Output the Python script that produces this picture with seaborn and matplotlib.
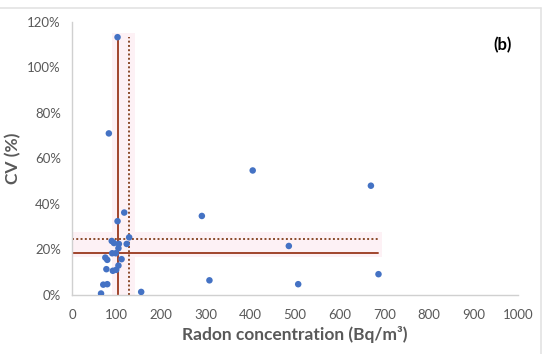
import matplotlib
matplotlib.use("Agg")
import matplotlib.pyplot as plt
from matplotlib.ticker import PercentFormatter
import seaborn as sns
import pandas as pd

# radon concentration (Bq/m3) and coefficient of variation (%) per dwelling
radon = [102, 82.5, 405, 670, 291, 117, 102, 128, 89, 94, 105, 122.5, 104, 486,
         90, 98, 74.6, 79, 111, 104, 77, 91.4, 99, 70, 79, 65, 155, 308, 507, 687]
cv = [113.3, 71, 54.7, 48, 34.7, 36.2, 32.4, 25.3, 23.7, 22.8, 22.4, 22.4, 20.5, 21.5,
      18.3, 18.3, 16.4, 15.4, 15.7, 12.9, 11.3, 10.6, 11, 4.5, 4.7, 0.6, 1.3, 6.4, 4.7, 9.1]

# reference lines: solid = median, dotted = mean
median_radon = 102
mean_radon = 128
median_cv = 18.4
mean_cv = 24.6
# shaded uncertainty bands
band_radon = (90, 141)
band_cv = (16.8, 27.5)

x_ticks = list(range(0, 1001, 100))
y_ticks = list(range(0, 121, 20))

df = pd.DataFrame({'radon': radon, 'cv': cv})

sns.set_style("white")
plt.rcParams['font.family'] = ['Lato', 'DejaVu Sans']

fig = plt.figure(figsize=(5.5, 3.54), dpi=100)
ax = fig.add_axes([0.131, 0.167, 0.811, 0.771])

x_max = max(radon)
y_max = max(cv)

# faint pink bands
ax.fill_between([band_radon[0], band_radon[1]], 0, y_max + 2, color='#fdf1f5', lw=0, zorder=0)
ax.fill_between([0, x_max + 8], band_cv[0], band_cv[1], color='#fdf1f5', lw=0, zorder=0)

line_col = '#a0452c'
ax.plot([median_radon, median_radon], [0, y_max], color=line_col, lw=1.4, zorder=1)
ax.plot([mean_radon, mean_radon], [0, y_max], color='#8a4a2a', lw=1.4, ls=(0, (1, 1.2)), zorder=1)
ax.plot([0, x_max], [median_cv, median_cv], color=line_col, lw=1.4, zorder=1)
ax.plot([0, x_max], [mean_cv, mean_cv], color='#8a4a2a', lw=1.4, ls=(0, (1, 1.2)), zorder=1)

sns.scatterplot(data=df, x='radon', y='cv', color='#4472c4', s=22, edgecolor='none', ax=ax, zorder=3)

ax.set_xlim(0, 1000)
ax.set_ylim(0, 120)
ax.set_xticks(x_ticks)
ax.set_yticks(y_ticks)
ax.yaxis.set_major_formatter(PercentFormatter(decimals=0))

for side in ['top', 'right']:
    ax.spines[side].set_visible(False)
for side in ['left', 'bottom']:
    ax.spines[side].set_color('#d0d0d0')
    ax.spines[side].set_linewidth(1)

ax.tick_params(axis='both', direction='out', length=4, width=1, color='#d0d0d0',
               labelsize=9.5, labelcolor='#595959', pad=4)
ax.tick_params(axis='x', pad=6)

ax.set_xlabel('Radon concentration (Bq/m³)', fontsize=12.5, fontweight='bold', color='#595959', labelpad=4)
ax.set_ylabel('CV (%)', fontsize=12.5, fontweight='bold', color='#595959', labelpad=4)

ax.text(0.985, 0.915, '(b)', transform=ax.transAxes, ha='right', va='center',
        fontsize=12, fontweight='bold', color='black')

# outer chart frame (top and right edges visible)
fig.add_artist(plt.Line2D([0.0, 0.983], [0.977, 0.977], color='#e3e3e3', lw=1.2))
fig.add_artist(plt.Line2D([0.983, 0.983], [0.0, 0.977], color='#e3e3e3', lw=1.2))

fig.savefig('out.png', dpi=100)
